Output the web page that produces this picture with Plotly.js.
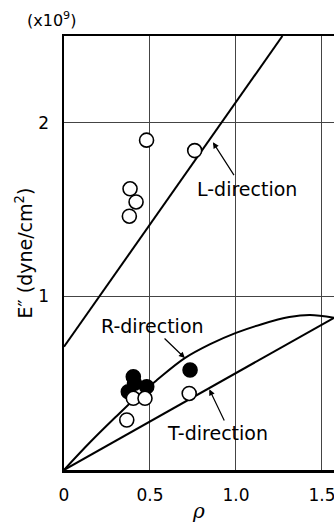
<!DOCTYPE html>
<html><head><meta charset="utf-8">
<script src="https://cdn.plot.ly/plotly-3.0.1.min.js"></script>
<style>html,body{margin:0;padding:0;background:#fff}</style>
</head><body><div id="chart" style="width:334px;height:525px"></div>
<script>
// L-direction: open circles and fitted line
const lX = [0.48, 0.76, 0.384, 0.419, 0.38];
const lY = [1.90, 1.84, 1.62, 1.544, 1.462];
const lLineX = [0, 1.27];
const lLineY = [0.71, 2.5];
// R-direction: filled circles and curve
const rX = [0.403, 0.41, 0.374, 0.481, 0.733];
const rY = [0.537, 0.50, 0.451, 0.479, 0.576];
const rCurveX = [0, 0.15, 0.30, 0.42, 0.54, 0.70, 0.85, 1.00, 1.15, 1.31, 1.43, 1.57];
const rCurveY = [0, 0.158, 0.305, 0.418, 0.518, 0.643, 0.725, 0.79, 0.84, 0.881, 0.893, 0.877];
// T-direction: open circles and line
const tX = [0.403, 0.471, 0.365, 0.728];
const tY = [0.413, 0.413, 0.288, 0.441];
const tLineX = [0, 1.0, 1.57];
const tLineY = [0, 0.558, 0.877];
// ticks
const xTickVals = [0, 0.5, 1.0, 1.5];
const xTickText = ['0', '0.5', '1.0', '1.5'];
const yTickVals = [1, 2];
const yTickText = ['1', '2'];

const F = 'DejaVu Sans, sans-serif';
const lineStyle = {color: '#000', width: 2};
const openMarker = {symbol: 'circle', size: 14, color: '#fff', line: {color: '#000', width: 1.6}};
const fillMarker = {symbol: 'circle', size: 14, color: '#000', line: {color: '#000', width: 1.6}};

const data = [
  {x: lLineX, y: lLineY, mode: 'lines', line: lineStyle, hoverinfo: 'skip'},
  {x: rCurveX, y: rCurveY, mode: 'lines', line: Object.assign({shape: 'spline', smoothing: 1}, lineStyle), hoverinfo: 'skip'},
  {x: tLineX, y: tLineY, mode: 'lines', line: lineStyle, hoverinfo: 'skip'},
  {x: rX, y: rY, mode: 'markers', marker: fillMarker},
  {x: tX, y: tY, mode: 'markers', marker: openMarker},
  {x: lX, y: lY, mode: 'markers', marker: openMarker}
];

const arrow = {showarrow: true, arrowhead: 2, arrowsize: 1, arrowwidth: 1.2, arrowcolor: '#000', axref: 'x', ayref: 'y', text: ''};
const AF = {family: F, size: 19, color: '#000'};
const layout = {
  width: 334, height: 525,
  margin: {l: 64, r: 0, t: 36, b: 55},
  paper_bgcolor: '#fff', plot_bgcolor: '#fff',
  showlegend: false,
  font: {family: F, size: 17, color: '#000'},
  xaxis: {
    range: [0, 1.57], tickvals: xTickVals, ticktext: xTickText,
    showline: true, linecolor: '#000', linewidth: 2.5, mirror: true,
    showgrid: true, gridcolor: '#444', gridwidth: 1, zeroline: false,
    ticks: '', ticklabelstandoff: 8, ticklabeloverflow: 'allow',
    tickfont: {family: F, size: 17, color: '#000'},
    title: {text: '<i>ρ</i>', font: {family: 'DejaVu Serif, serif', size: 20, color: '#000'}, standoff: 0}
  },
  yaxis: {
    range: [0, 2.5], tickvals: yTickVals, ticktext: yTickText,
    showline: true, linecolor: '#000', linewidth: 2.5, mirror: false,
    showgrid: true, gridcolor: '#444', gridwidth: 1, zeroline: false,
    ticks: '', ticklabelstandoff: 9,
    tickfont: {family: F, size: 17, color: '#000'},
    title: {text: 'E″ (dyne/cm<sup>2</sup>)', font: {family: F, size: 19, color: '#000'}, standoff: 1}
  },
  annotations: [
    {xref: 'paper', yref: 'paper', x: -0.144, y: 1.037, xanchor: 'left', yanchor: 'middle', showarrow: false,
     text: '(x10<sup>9</sup>)', font: {family: F, size: 16, color: '#000'}},
    {x: 1.064, y: 1.619, text: 'L-direction', showarrow: false, font: AF},
    {x: 0.512, y: 0.83, text: 'R-direction', showarrow: false, font: AF},
    {x: 0.89, y: 0.213, text: 'T-direction', showarrow: false, font: AF},
    Object.assign({x: 0.866, y: 1.888, ax: 0.994, ay: 1.69}, arrow),
    Object.assign({x: 0.703, y: 0.645, ax: 0.576, ay: 0.766}, arrow),
    Object.assign({x: 0.845, y: 0.465, ax: 0.936, ay: 0.277}, arrow)
  ]
};
Plotly.newPlot('chart', data, layout, {staticPlot: true, displayModeBar: false});
</script></body></html>
